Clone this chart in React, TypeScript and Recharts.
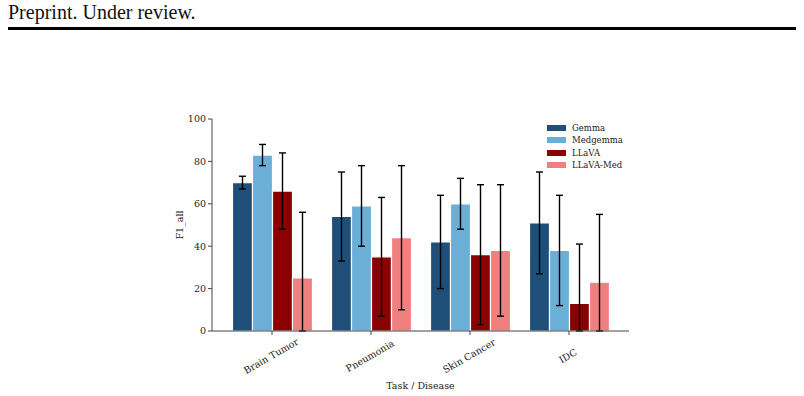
import React from 'react';
import {
  BarChart,
  Bar,
  XAxis,
  YAxis,
  ErrorBar,
  Label,
} from 'recharts';

const tasks = ['Brain Tumor', 'Pneumonia', 'Skin Cancer', 'IDC'];

// mean F1 and std per model, one entry per task
const gemma = [70, 54, 42, 51];
const gemmaStd = [3, 21, 22, 24];
const medgemma = [83, 59, 60, 38];
const medgemmaStd = [5, 19, 12, 26];
const llava = [66, 35, 36, 13];
const llavaStd = [18, 28, 33, 28];
const llavaMed = [25, 44, 38, 23];
const llavaMedStd = [31, 34, 31, 32];

const yTicks = [0, 20, 40, 60, 80, 100];

const series = [
  { key: 'gemma', name: 'Gemma', color: '#1f4e79', mean: gemma, std: gemmaStd },
  { key: 'medgemma', name: 'Medgemma', color: '#6baed6', mean: medgemma, std: medgemmaStd },
  { key: 'llava', name: 'LLaVA', color: '#8b0000', mean: llava, std: llavaStd },
  { key: 'llavaMed', name: 'LLaVA-Med', color: '#f08080', mean: llavaMed, std: llavaMedStd },
];

// error whiskers are cut off at the x axis, so the lower arm stops at 0
const data = tasks.map((task, i) => {
  const row: Record<string, any> = { task };
  series.forEach((s) => {
    const m = s.mean[i];
    const e = s.std[i];
    row[s.key] = m;
    row[`${s.key}Err`] = [Math.min(e, m), e];
  });
  return row;
});

const FONT = '"DejaVu Serif", serif';
const AXIS = '#444';

const RotatedTick = (props: any) => {
  const { x, y, payload } = props;
  return (
    <g transform={`translate(${x - 1},${y + 19}) rotate(-30)`}>
      <text textAnchor="middle" dy="0.35em" fontFamily={FONT} fontSize={9.5} fill="#222">
        {payload.value}
      </text>
    </g>
  );
};

const LegendBox = () => (
  <div
    style={{
      position: 'absolute',
      left: 547,
      top: 122,
      fontFamily: FONT,
      fontSize: 8.5,
      color: '#222',
      lineHeight: '12.3px',
    }}
  >
    {series.map((s) => (
      <div key={s.key} style={{ display: 'flex', alignItems: 'center' }}>
        <span
          style={{
            display: 'inline-block',
            width: 19,
            height: 6,
            background: s.color,
            marginRight: 6,
          }}
        />
        <span>{s.name}</span>
      </div>
    ))}
  </div>
);

const App = () => {
  return (
    <div style={{ position: 'absolute', left: 0, top: 0, width: 804, height: 396, background: '#fff' }}>
      <div
        style={{
          position: 'absolute',
          left: 8,
          top: 1,
          fontFamily: '"Liberation Serif", serif',
          fontSize: 20,
          color: '#111',
        }}
      >
        Preprint. Under review.
      </div>
      <div style={{ position: 'absolute', left: 8, top: 27, width: 788, height: 3, background: '#000' }} />
      <div style={{ position: 'absolute', left: 0, top: 0 }}>
        <BarChart
          width={804}
          height={396}
          data={data}
          barSize={20}
          barGap={0}
          margin={{ top: 119, right: 175, left: 182, bottom: 5 }}
        >
          <XAxis
            dataKey="task"
            height={60}
            padding={{ left: 10.5, right: 10.5 }}
            tick={<RotatedTick />}
            tickSize={4}
            tickLine={{ stroke: AXIS }}
            axisLine={{ stroke: AXIS }}
            interval={0}
          >
            <Label
              value="Task / Disease"
              position="insideBottom"
              offset={2}
              style={{ fontFamily: FONT, fontSize: 9.5, fill: '#222' }}
            />
          </XAxis>
          <XAxis
            xAxisId="top"
            dataKey="task"
            orientation="top"
            height={0}
            tick={false}
            tickLine={false}
            axisLine={{ stroke: AXIS }}
          />
          <YAxis
            width={30}
            domain={[0, 100]}
            ticks={yTicks}
            allowDataOverflow
            tickSize={4}
            tickLine={{ stroke: AXIS }}
            axisLine={{ stroke: AXIS }}
            tick={{ fontFamily: FONT, fontSize: 9.5, fill: '#222' }}
          >
            <Label
              value="F1_all"
              angle={-90}
              position="insideLeft"
              offset={-2}
              style={{ fontFamily: FONT, fontSize: 9.5, fill: '#222', textAnchor: 'middle' }}
            />
          </YAxis>
          <YAxis
            yAxisId="right"
            orientation="right"
            width={0}
            domain={[0, 100]}
            tick={false}
            tickLine={false}
            axisLine={{ stroke: AXIS }}
          />
          {series.map((s) => (
            <Bar
              key={s.key}
              dataKey={s.key}
              name={s.name}
              fill={s.color}
              stroke="#fff"
              strokeWidth={1.2}
              isAnimationActive={false}
            >
              <ErrorBar
                dataKey={`${s.key}Err`}
                direction="y"
                width={3.5}
                stroke="#000"
                strokeWidth={1.4}
              />
            </Bar>
          ))}
        </BarChart>
      </div>
      <LegendBox />
    </div>
  );
};

export default App;
